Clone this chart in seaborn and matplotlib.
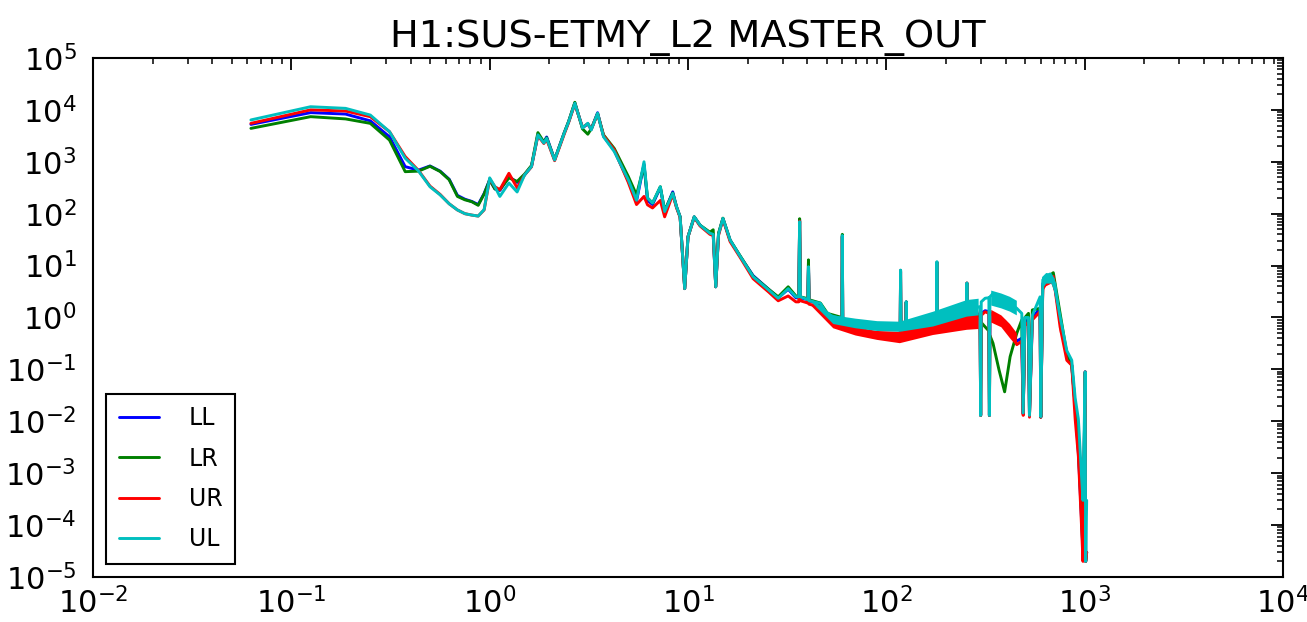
import numpy as np
import pandas as pd
import seaborn as sns
from matplotlib import pyplot as plt
from matplotlib.ticker import LogLocator

### Values (Hz, amplitude)
freq = [0.0625, 0.125, 0.1875, 0.25, 0.3125, 0.375, 0.4375, 0.5, 0.5625, 0.625,
        0.6875, 0.75, 0.8125, 0.875, 0.9375, 1.0, 1.0625, 1.125, 1.25, 1.375,
        1.5, 1.625, 1.75, 1.875, 1.9375, 2.125, 2.375, 2.5, 2.6875, 2.9375,
        3.125, 3.25, 3.5, 3.75, 4.25, 5.0, 5.5, 6.0, 6.25, 6.625,
        7.25, 7.625, 8.375, 8.75, 9.125, 9.625, 10.0, 10.75, 11.5, 12.9,
        13.4, 13.8, 14.25, 15.0, 16.3, 18.4, 21.3, 25.5, 28.5, 32.0,
        35.0, 36.2, 36.55, 36.9, 40.2, 40.5, 40.8, 46.5, 50.5, 59.7,
        60.0, 60.3, 67.0, 81.0, 100.0, 117.5, 118.0, 118.5, 125.5, 126.0,
        126.5, 150.0, 179.5, 180.0, 180.5, 210.0, 254.5, 255.0, 255.5, 290.0,
        297.0, 299.0, 301.0, 315.0, 329.0, 331.0, 333.0, 345.0, 370.0, 395.0,
        421.0, 455.0, 482.0, 490.0, 500.0, 521.0, 527.0, 545.0, 596.0, 601.0,
        615.0, 670.0, 695.0, 752.0, 813.0, 861.0, 896.0, 930.0, 963.0, 981.0,
        1006.0, 1012.0, 1024.0]

ll = [5250, 8850, 8300, 6150, 3030, 805, 690, 830, 660, 460,
      225, 190, 172, 150, 245, 450, 300, 280, 520, 400,
      560, 820, 3300, 2400, 3000, 1100, 3600, 5900, 13500, 4500,
      5400, 4200, 8800, 3100, 1650, 430, 175, 900, 180, 150,
      320, 110, 263, 136, 87, 3.6, 36, 87, 60, 42,
      40, 3.9, 40, 81, 31, 14.7, 6.4, 3.5, 2.4, 3.5,
      2.4, 2.4, 74, 2.4, 2.2, 12, 2.1, 1.8, 1.1, 0.9,
      37, 0.9, 0.75, 0.65, 0.62, 0.62, 8.0, 0.62, 0.65, 2.0,
      0.65, 0.78, 0.9, 11.5, 0.9, 1.0, 1.1, 4.6, 1.1, 1.15,
      1.1, 0.013, 1.2, 1.35, 1.3, 0.013, 1.25, 1.15, 0.95, 0.85,
      0.62, 0.35, 0.4, 0.014, 0.9, 0.8, 0.013, 1.0, 1.5, 0.012,
      4.5, 6.5, 6.0, 0.9, 0.2, 0.12, 0.02, 0.0025, 0.00015, 0.00003,
      0.09, 0.00002, 0.00003]

lr = [4400, 7400, 6700, 5500, 2620, 645, 660, 820, 650, 450,
      215, 185, 170, 145, 240, 445, 300, 290, 490, 418,
      580, 850, 3650, 2400, 2900, 1100, 3600, 6000, 14000, 4300,
      3400, 4300, 8500, 3300, 1800, 520, 230, 850, 200, 160,
      330, 115, 250, 136, 87, 3.6, 36, 87, 60, 44,
      49, 3.9, 42, 82, 31, 15, 6.2, 3.5, 2.5, 3.9,
      2.6, 2.5, 80, 2.5, 2.3, 12.9, 2.2, 1.9, 1.2, 1.0,
      40, 0.95, 0.85, 0.75, 0.72, 0.72, 8.0, 0.72, 0.74, 2.0,
      0.74, 0.85, 0.95, 11.5, 0.95, 1.05, 1.1, 4.6, 1.1, 1.1,
      1.0, 0.013, 0.8, 0.66, 0.55, 0.013, 0.45, 0.32, 0.098, 0.037,
      0.176, 0.5, 0.9, 0.014, 1.0, 1.2, 0.013, 1.4, 1.5, 0.012,
      4.0, 6.5, 7.3, 1.2, 0.2, 0.12, 0.02, 0.003, 0.0002, 0.00003,
      0.085, 0.00002, 0.00003]

ur = [5500, 10000, 9500, 7400, 3800, 1260, 680, 340, 235, 155,
      118, 100, 94, 90, 118, 470, 330, 290, 600, 316,
      560, 800, 3200, 2250, 2700, 1050, 3400, 5700, 13000, 4600,
      5400, 4200, 8400, 3200, 1700, 400, 150, 215, 148, 129,
      180, 87, 235, 130, 85, 3.6, 36, 85, 58, 40,
      38, 3.9, 38, 78, 29, 14, 5.6, 3.1, 2.1, 2.6,
      2.0, 2.0, 72, 2.1, 1.9, 9, 1.8, 1.6, 0.95, 0.75,
      36, 0.72, 0.55, 0.47, 0.43, 0.42, 7.5, 0.43, 0.45, 1.9,
      0.45, 0.52, 0.6, 11.5, 0.6, 0.75, 0.9, 4.6, 0.9, 0.95,
      0.95, 0.013, 1.1, 1.29, 1.2, 0.013, 1.2, 1.1, 0.9, 0.8,
      0.58, 0.3, 0.35, 0.013, 0.8, 0.7, 0.012, 0.9, 1.3, 0.012,
      3.7, 6.0, 6.2, 0.66, 0.15, 0.12, 0.011, 0.0021, 0.00011, 0.00002,
      0.09, 0.00002, 0.00003]

ul = [6400, 11500, 10700, 7950, 3800, 1170, 665, 330, 230, 155,
      118, 100, 94, 90, 120, 490, 330, 215, 390, 262,
      560, 810, 3300, 2300, 2830, 1080, 3540, 5860, 13400, 4480,
      5520, 4100, 8600, 3030, 1570, 450, 182, 1000, 200, 160,
      330, 110, 246, 136, 87, 3.6, 36, 87, 60, 42,
      40, 3.9, 40, 81, 31, 14.7, 6.1, 3.4, 2.35, 3.6,
      2.5, 2.5, 70, 2.5, 2.2, 9.5, 2.1, 1.88, 1.12, 0.95,
      38, 0.92, 0.8, 0.7, 0.68, 0.68, 8.2, 0.68, 0.7, 2.0,
      0.7, 0.82, 0.95, 11.9, 0.95, 1.2, 1.5, 4.6, 1.5, 1.6,
      1.6, 0.013, 2.0, 2.35, 2.4, 0.013, 2.5, 2.9, 2.3, 2.2,
      1.87, 1.5, 1.2, 0.0145, 1.0, 1.0, 0.013, 1.1, 2.5, 0.0123,
      5.3, 6.9, 5.5, 1.04, 0.23, 0.15, 0.028, 0.011, 0.001, 0.0003,
      0.09, 0.00002, 0.0003]

### Noise band envelopes (the thick fuzzy part of UR and UL)
band_freq = [42, 54, 70, 90, 117, 172, 255, 292, 296, 338, 380, 420, 455, 470,
             610, 640, 680, 720, 750]
ur_lo = [1.65, 0.62, 0.45, 0.37, 0.32, 0.46, 0.58, 0.6, np.nan, 0.8, 0.65, 0.4, 0.28, np.nan,
         3.0, 4.0, 4.5, 2.5, 0.5]
ur_hi = [1.9, 0.85, 0.65, 0.55, 0.53, 0.83, 1.29, 1.3, np.nan, 1.4, 1.1, 0.75, 0.5, np.nan,
         5.0, 6.0, 6.3, 4.0, 0.9]
ul_lo = [1.95, 0.75, 0.62, 0.55, 0.53, 0.67, 1.04, 1.1, np.nan, 1.7, 1.5, 1.3, 1.1, np.nan,
         3.5, 4.5, 4.5, 2.5, 0.8]
ul_hi = [2.25, 1.1, 0.95, 0.85, 0.83, 1.29, 2.17, 2.3, np.nan, 3.3, 2.9, 2.5, 2.1, np.nan,
         6.0, 7.2, 7.0, 4.5, 1.4]

channels = ['LL', 'LR', 'UR', 'UL']
colours = ['#0000ff', '#008000', '#ff0000', '#00bfbf']

df = pd.DataFrame({'freq': freq * 4,
                   'asd': ll + lr + ur + ul,
                   'channel': np.repeat(channels, len(freq))})

sns.set_style('white', rc={'text.color': 'black', 'xtick.color': 'black',
                           'ytick.color': 'black', 'axes.labelcolor': 'black'})
plt.rcParams['font.family'] = ['DejaVu Sans']
plt.rcParams['axes.unicode_minus'] = False

fig = plt.figure(figsize=(13.07, 6.22), dpi=100)
ax = fig.add_axes([0.0712, 0.0723, 0.9104, 0.8345])
ax.set_xscale('log')
ax.set_yscale('log')

sns.lineplot(data=df, x='freq', y='asd', hue='channel', hue_order=channels,
             palette=colours, estimator=None, sort=False, lw=2.1, ax=ax)

for i, line in enumerate(ax.lines):
    line.set_zorder(2 + i)

# fuzzy bands, tucked just under their own line
for lo, hi, col, z in [(ur_lo, ur_hi, colours[2], 4.5), (ul_lo, ul_hi, colours[3], 5.5)]:
    lo = np.array(lo)
    ax.fill_between(band_freq, lo, hi, where=~np.isnan(lo), color=col, lw=0, zorder=z)

ax.set_xlim(1e-2, 1e4)
ax.set_ylim(1e-5, 1e5)
ax.set_xlabel('')
ax.set_ylabel('')
ax.set_title('H1:SUS-ETMY_L2 MASTER_OUT', fontsize=27.5, pad=8, color='black')

ax.xaxis.set_major_locator(LogLocator(base=10, numticks=20))
ax.yaxis.set_major_locator(LogLocator(base=10, numticks=20))
ax.xaxis.set_minor_locator(LogLocator(base=10, subs=np.arange(2, 10), numticks=20))
ax.yaxis.set_minor_locator(LogLocator(base=10, subs=np.arange(2, 10), numticks=20))
ax.tick_params(which='both', direction='in', top=True, right=True, colors='black')
ax.tick_params(which='major', length=8.6, width=1.3, labelsize=22)
ax.tick_params(axis='y', which='major', pad=12)
ax.tick_params(axis='x', which='major', pad=7)
ax.tick_params(which='minor', length=4.3, width=1.1)
for sp in ax.spines.values():
    sp.set_linewidth(1.5)
    sp.set_color('black')

leg = ax.get_legend()
handles = leg.legend_handles
labels = [t.get_text() for t in leg.get_texts()]
leg = ax.legend(handles, labels, loc='lower left', fontsize=17, fancybox=False,
                edgecolor='black', framealpha=1, borderpad=0.54, borderaxespad=0.55,
                handlelength=1.7, handletextpad=1.27, labelspacing=0.69)
leg.get_frame().set_linewidth(1.5)
for h in leg.legend_handles:
    h.set_linewidth(2.1)

fig.savefig('out.png', dpi=100, facecolor='white')
